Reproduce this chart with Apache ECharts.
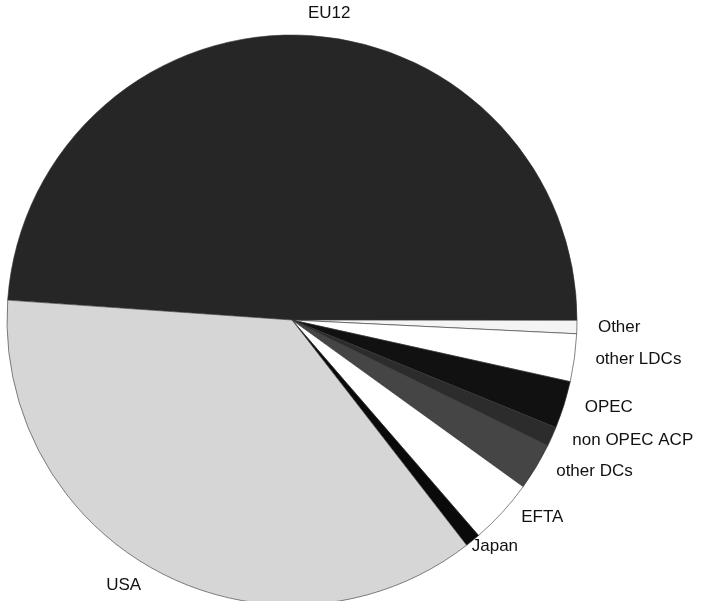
<!DOCTYPE html>
<html>
<head>
<meta charset="utf-8">
<style>html,body{margin:0;padding:0;background:#fff;}#c{width:708px;height:601px;}</style>
<script src="https://cdn.jsdelivr.net/npm/echarts@6/dist/echarts.min.js"></script>
</head>
<body>
<div id="c"></div>
<script>
var categories = ['EU12', 'Other', 'other LDCs', 'OPEC', 'non OPEC ACP', 'other DCs', 'EFTA', 'Japan', 'USA'];
var shares = [48.9, 0.75, 2.7, 2.69, 1.11, 2.67, 3.7, 0.86, 36.6];
var sliceColors = ['#262626', '#f4f4f4', '#ffffff', '#111111', '#2c2c2c', '#454545', '#ffffff', '#0a0a0a', '#d6d6d6'];
// per-slice label line lengths (label placement only)
var lineLen = [22, 8, 8, 8, 8, 8, 8, 8, 16];
var lineLen2 = [0, 8, 8, 8, 8, 8, 8, -11, 4];

var chart = echarts.init(document.getElementById('c'), null, {renderer: 'canvas'});
var data = categories.map(function (n, i) {
  return {
    name: n,
    value: shares[i],
    itemStyle: {color: sliceColors[i]},
    labelLine: {show: false, length: lineLen[i], length2: lineLen2[i]}
  };
});
chart.setOption({
  animation: false,
  backgroundColor: '#ffffff',
  series: [{
    type: 'pie',
    center: [292, 320],
    radius: [0, 285],
    startAngle: 176,
    clockwise: true,
    avoidLabelOverlap: false,
    itemStyle: {borderColor: '#333', borderWidth: 0.6},
    label: {
      show: true,
      position: 'outside',
      color: '#111',
      fontSize: 17,
      fontFamily: 'Liberation Sans, Arial, sans-serif',
      formatter: '{b}'
    },
    labelLine: {show: false, length: 8, length2: 8},
    data: data
  }]
});
</script>
</body>
</html>
